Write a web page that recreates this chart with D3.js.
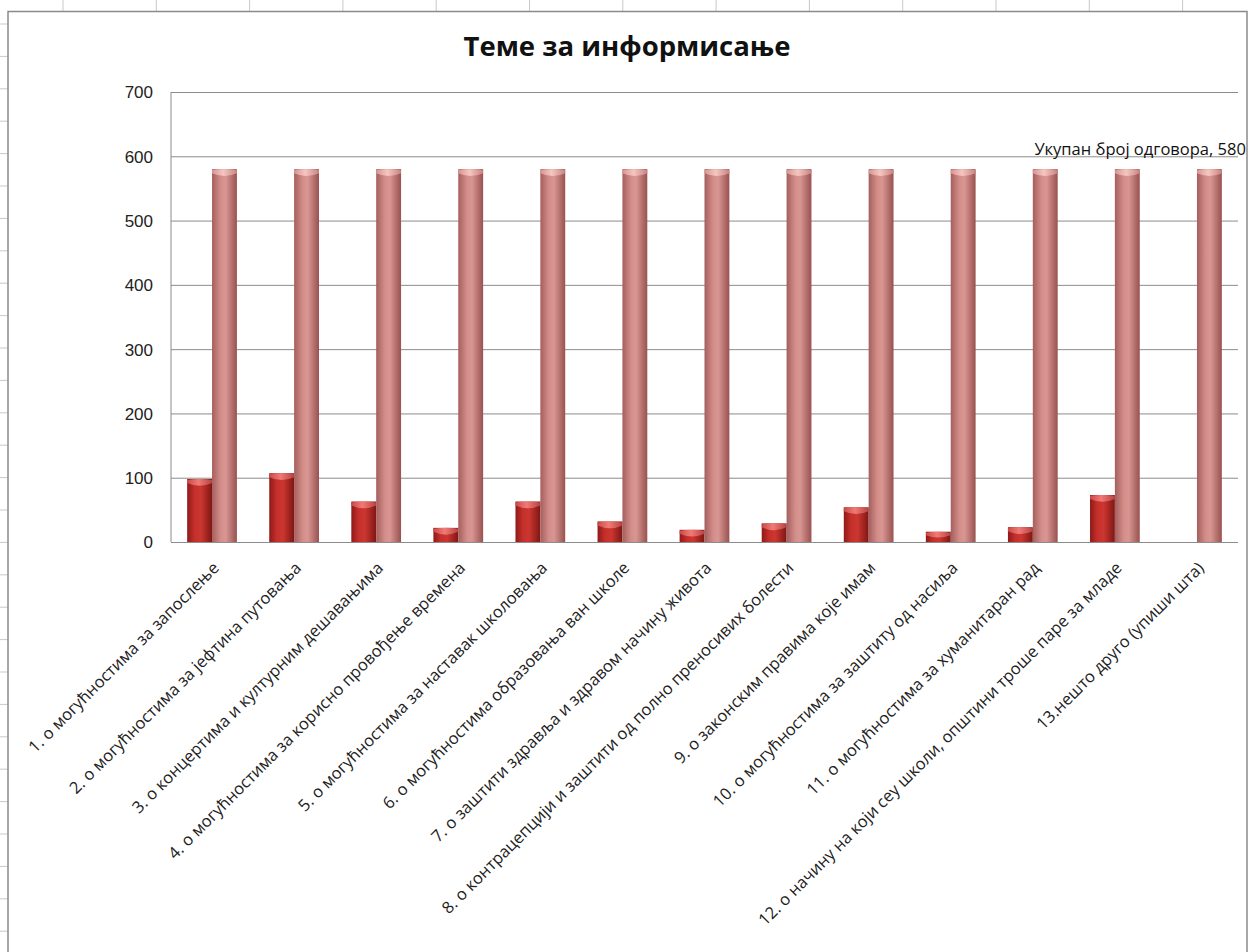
<!DOCTYPE html>
<html lang="sr">
<head>
<meta charset="UTF-8">
<title>Теме за информисање</title>
<script src="https://d3js.org/d3.v7.min.js"></script>
<style>
  body { margin: 0; background: #fff; }
  svg { display: block; font-family: "Open Sans", sans-serif; }
  .grid line { stroke: #8c8c8c; stroke-width: 1; }
  .grid path { display: none; }
  .grid text { fill: #222; font-size: 17px; }
  .xlab { fill: #222; font-size: 16.5px; }
</style>
</head>
<body>
<svg id="chart" width="1252" height="952"></svg>
<script>
// categories on the x axis
const categories = [
  "1. о могућностима за запослење",
  "2. о могућностима за јефтина путовања",
  "3. о концертима и културним дешавањима",
  "4. о могућностима за корисно провођење времена",
  "5. о могућностима за наставак школовања",
  "6. о могућностима образовања ван школе",
  "7. о заштити здравља и здравом начину живота",
  "8. о контрацепцији и заштити од полно преносивих болести",
  "9. о законским правима које имам",
  "10. о могућностима за заштиту од насиља",
  "11. о могућностима за хуманитаран рад",
  "12. о начину на који сеу школи, општини троше паре за младе",
  "13.нешто друго (упиши шта)"
];
const seriesNames = ["Број одговора", "Укупан број одговора"];
const answers = [98, 107, 63, 22, 63, 32, 19, 29, 54, 16, 23, 73, 0];
const totals  = [580, 580, 580, 580, 580, 580, 580, 580, 580, 580, 580, 580, 580];
const yTicks  = [0, 100, 200, 300, 400, 500, 600, 700];

const svg = d3.select("#chart");
const W = 1252, H = 952;
const plot = { left: 171, right: 1238, top: 92, bottom: 542 };

// spreadsheet cells behind the chart
const sheet = svg.append("g").attr("stroke", "#c9c9c9");
d3.range(63, W, 93.3).forEach(xx =>
  sheet.append("line").attr("x1", xx).attr("x2", xx).attr("y1", 0).attr("y2", 11));
d3.range(24, H, 32.4).forEach(yy =>
  sheet.append("line").attr("x1", 0).attr("x2", 8).attr("y1", yy).attr("y2", yy));

// chart frame
svg.append("rect")
  .attr("x", 8).attr("y", 11.5).attr("width", 1239).attr("height", 960)
  .attr("fill", "#fff").attr("stroke", "#8a8a8a").attr("stroke-width", 1.5);

const x0 = d3.scaleBand().domain(categories)
  .range([plot.left, plot.right]).paddingInner(0.394).paddingOuter(0.197);
const x1 = d3.scaleBand().domain(seriesNames).range([0, x0.bandwidth()]);
const y = d3.scaleLinear().domain([0, 700]).range([plot.bottom, plot.top]);

// gradients for the cylinder-like columns
const defs = svg.append("defs");
function grad(id, stops) {
  const g = defs.append("linearGradient").attr("id", id)
    .attr("x1", "0%").attr("x2", "100%").attr("y1", "0%").attr("y2", "0%");
  stops.forEach(s => g.append("stop").attr("offset", s[0]).attr("stop-color", s[1]));
}
grad("redBody", [[0, "#8e1a18"], [0.3, "#c6302c"], [0.55, "#cc3630"], [1, "#7e1614"]]);
grad("redCap",  [[0, "#c84a48"], [0.45, "#f07a76"], [1, "#b84240"]]);
grad("pinkBody", [[0, "#a45e5c"], [0.35, "#d48e8a"], [0.55, "#d89692"], [1, "#98524f"]]);
grad("pinkCap",  [[0, "#d89490"], [0.45, "#f6c6c2"], [1, "#c88480"]]);
const fills = [["url(#redBody)", "url(#redCap)"], ["url(#pinkBody)", "url(#pinkCap)"]];

// gridlines + y labels
svg.append("g").attr("class", "grid")
  .attr("transform", `translate(${plot.left},0)`)
  .call(d3.axisLeft(y).tickValues(yTicks).tickSize(-(plot.right - plot.left)).tickPadding(18))
  .call(g => g.selectAll(".tick text").attr("dy", "0.35em"));

// axis lines
svg.append("line").attr("x1", plot.left).attr("x2", plot.left)
  .attr("y1", plot.top).attr("y2", plot.bottom).attr("stroke", "#8c8c8c");

const rows = categories.map((c, i) => ({ cat: c, values: [answers[i], totals[i]] }));

const groups = svg.append("g").selectAll("g").data(rows).join("g")
  .attr("transform", d => `translate(${x0(d.cat)},0)`);

groups.each(function (d) {
  const g = d3.select(this);
  d.values.forEach((v, k) => {
    if (!v) return;
    const bx = x1(seriesNames[k]), bw = x1.bandwidth();
    const top = y(v), bot = y(0);
    g.append("rect").attr("x", bx).attr("y", top).attr("width", bw)
      .attr("height", bot - top).attr("fill", fills[k][0]);
    const c = Math.min(4, (bot - top) / 3);
    g.append("path")
      .attr("d", `M${bx},${top + 1} Q${bx + bw / 2},${top - 1} ${bx + bw},${top + 1} L${bx + bw},${top + c}
        Q${bx + bw / 2},${top + c * 2.4} ${bx},${top + c} Z`)
      .attr("fill", fills[k][1]);
  });
});

// bottom axis line
svg.append("line").attr("x1", plot.left).attr("x2", plot.right)
  .attr("y1", plot.bottom + 0.5).attr("y2", plot.bottom + 0.5).attr("stroke", "#8c8c8c");

// rotated category labels
svg.append("g").selectAll("text").data(categories).join("text")
  .attr("class", "xlab")
  .attr("text-anchor", "end")
  .attr("transform", c => `translate(${x0(c) + x0.bandwidth() / 2 + 8},${plot.bottom + 27}) rotate(-45)`)
  .text(c => c);

// data label on the last total column
const lastCat = categories[categories.length - 1];
svg.append("text")
  .attr("x", x0(lastCat) + x1(seriesNames[1]) + x1.bandwidth() / 2 - 175)
  .attr("y", y(totals[totals.length - 1]) - 14)
  .attr("font-size", 16.5).attr("fill", "#111")
  .text(`${seriesNames[1]}, ${totals[totals.length - 1]}`);

// title
svg.append("text")
  .attr("x", 627).attr("y", 56)
  .attr("text-anchor", "middle")
  .attr("font-size", 27.5).attr("font-weight", "bold").attr("fill", "#111")
  .text("Теме за информисање");
</script>
</body>
</html>
